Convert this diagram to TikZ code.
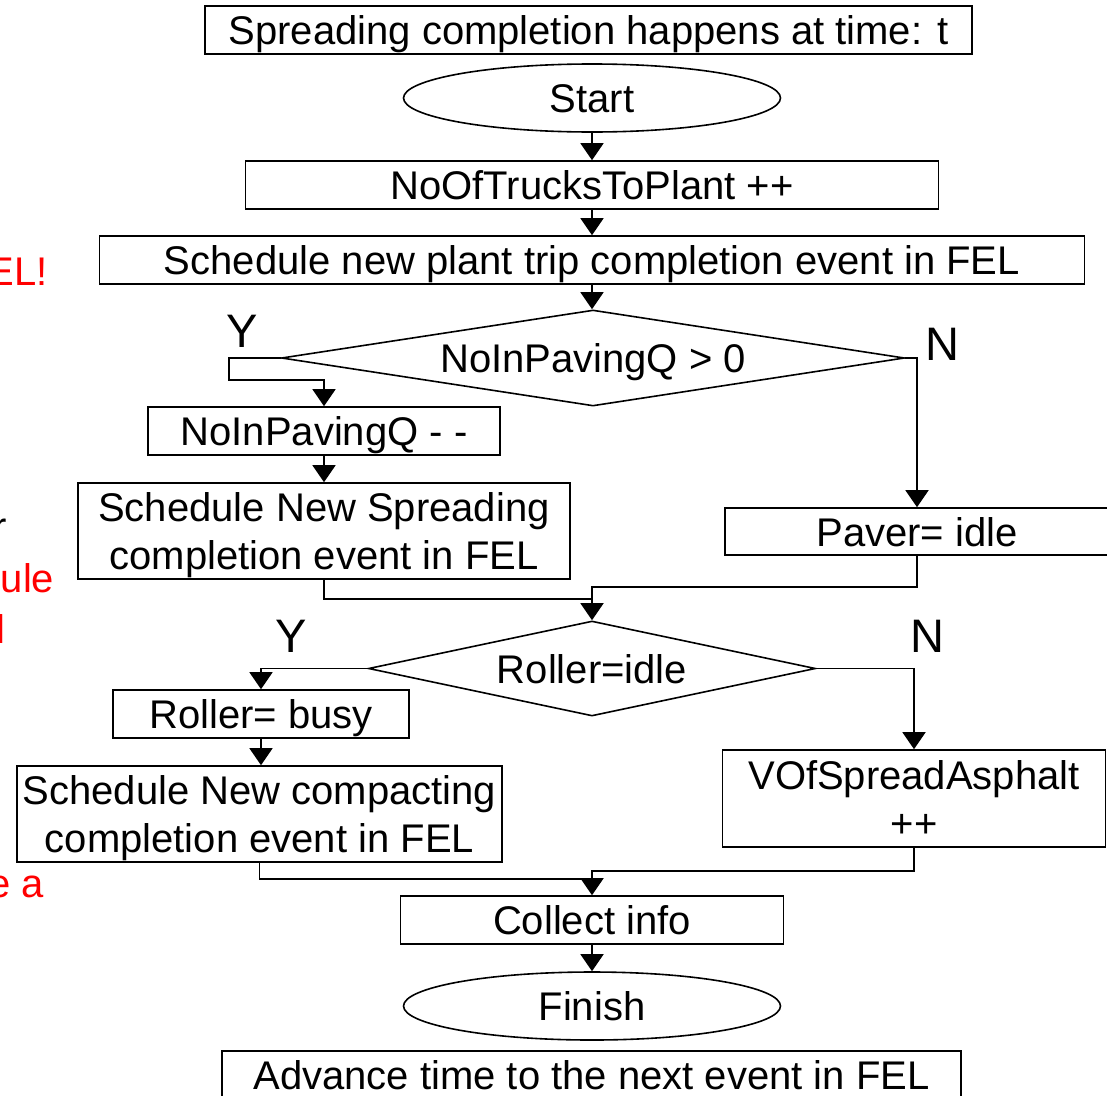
\documentclass[tikz,border=0pt]{standalone}
\usepackage{fontspec}
\setmainfont{Liberation Sans}
\usetikzlibrary{shapes.geometric,arrows.meta,calc}
\begin{document}
\begin{tikzpicture}[x=1pt,y=-1pt,
  line width=1.6pt,
  every node/.style={font=\fontsize{40}{48}\selectfont, inner sep=0pt},
  box/.style={draw, rectangle, text height=29pt, text depth=0pt},
  boxtwo/.style={draw, rectangle, align=center, text height=77pt, text depth=0pt},
  term/.style={draw, ellipse, minimum width=377pt, minimum height=68pt, text height=29pt, text depth=0pt},
  dec/.style={draw, diamond, text height=29pt, text depth=0pt},
  arr/.style={-{Triangle[length=17pt,width=23pt]}},
  lab/.style={font=\fontsize{47}{56}\selectfont, text height=34pt, text depth=0pt},
  frag/.style={text=red}]
\useasboundingbox (0,0) rectangle (1107,1095);
\clip (0,0) rectangle (1107,1095);

% nodes
\node[box, minimum width=767pt, minimum height=48pt] (head) at (588.5,30) {Spreading completion happens at time: t};
\node[term] (start) at (592,98) {Start};
\node[box, minimum width=693pt, minimum height=48pt] (trucks) at (592,185) {NoOfTrucksToPlant ++};
\node[box, minimum width=985pt, minimum height=48pt] (plant) at (592,260) {Schedule new plant trip completion event in FEL};
\node[dec, minimum width=623pt, minimum height=96pt, shape aspect=6.5] (d1) at (593,358) {NoInPavingQ > 0};
\node[box, minimum width=352pt, minimum height=48pt] (deq) at (324,431) {NoInPavingQ - -};
\node[boxtwo, minimum width=492pt, minimum height=96pt] (spread) at (324,531) {Schedule New Spreading\\completion event in FEL};
\node[box, minimum width=384pt, minimum height=47pt] (paver) at (917,531.5) {Paver= idle};
\node[dec, minimum width=447pt, minimum height=95pt, shape aspect=4.7] (d2) at (592,668.5) {Roller=idle};
\node[box, minimum width=296pt, minimum height=48pt] (busy) at (261,714) {Roller= busy};
\node[boxtwo, minimum width=485pt, minimum height=96pt] (compact) at (259.5,814) {Schedule New compacting\\completion event in FEL};
\node[boxtwo, minimum width=383pt, minimum height=97pt] (vof) at (914,798.5) {VOfSpreadAsphalt\\++};
\node[box, minimum width=383pt, minimum height=48pt] (collect) at (592,920) {Collect info};
\node[term] (finish) at (592,1006) {Finish};
\node[box, minimum width=739pt, minimum height=48pt] (adv) at (591.5,1075) {Advance time to the next event in FEL};

% branch labels
\node[lab] (y1) at (242,330) {Y};
\node[lab] (n1) at (942,343) {N};
\node[lab] (y2) at (291,635) {Y};
\node[lab] (n2) at (927,635) {N};

% clipped fragments at the left edge
\node[frag, anchor=base east] (f1) at (48.5,285) {EL!};
\node[anchor=base east] (f2) at (8,540) {r};
\node[frag, anchor=base east] (f3) at (55,592) {ule};
\node[frag, anchor=base west] (f4) at (-4.5,643) {l};
\node[frag, anchor=base east] (f5) at (45,897) {e a};

% junction coordinates
\coordinate (j1) at (229,380);
\coordinate (m1) at (592,587);
\coordinate (m2) at (592,599);
\coordinate (m3) at (592,871);
\coordinate (m4) at (592,879);

% connectors
\draw[arr] (start.south) -- (start.south |- trucks.north);
\draw[arr] (trucks.south) -- (plant.north);
\draw[arr] (plant.south) -- (plant.south |- d1.north);
\draw[arr] (d1.west) -| (j1) -| (deq.north);
\draw[arr] (deq.south) -- (spread.north);
\draw[arr] (d1.east) -| (paver.north);
\draw[arr] (paver.south) |- (m1) -- (d2.north);
\draw (spread.south) |- (m2);
\draw[arr] (d2.west) -| (busy.north);
\draw[arr] (busy.south) -- (busy.south |- compact.north);
\draw[arr] (d2.east) -| (vof.north);
\draw[arr] (vof.south) |- (m3) -- (collect.north);
\draw (compact.south) |- (m4);
\draw[arr] (collect.south) -- (finish.north);
\end{tikzpicture}
\end{document}
